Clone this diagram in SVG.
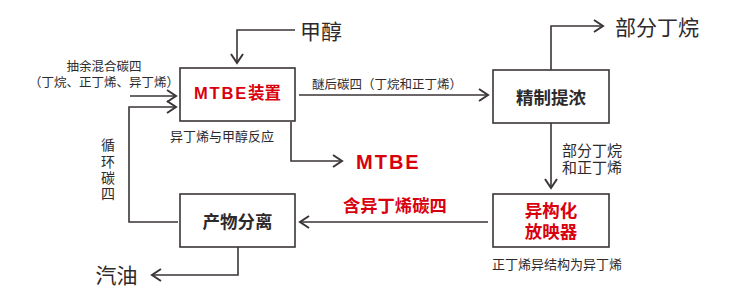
<svg xmlns="http://www.w3.org/2000/svg" width="730" height="308" viewBox="0 0 730 308">
<defs>
<style>
text{font-family:"Liberation Sans","Noto Sans CJK SC",sans-serif;fill:#2e2a2b;dominant-baseline:central}
.box{fill:#fff;stroke:#3a3536;stroke-width:1.6}
.ln{fill:none;stroke:#3a3536;stroke-width:1.6}
.big{font-size:21px}
.sm{font-size:12.5px}
.md{font-size:13px}
.bl{font-size:17.5px;font-weight:bold}
.red{fill:#d9000d;font-weight:bold}
.mid{text-anchor:middle}
</style>
<marker id="ah" viewBox="0 0 12 14" refX="10" refY="7" markerWidth="12" markerHeight="14" markerUnits="userSpaceOnUse" orient="auto">
<path d="M1,1 L10,7 L1,13" fill="none" stroke="#3a3536" stroke-width="2"/>
</marker>
</defs>
<rect width="730" height="308" fill="#fff"/>
<g id="connectors">
<polyline class="ln" points="295,30 237,30 237,63" marker-end="url(#ah)"/>
<line class="ln" x1="130" y1="96" x2="176" y2="96" marker-end="url(#ah)"/>
<polyline class="ln" points="178,222 129,222 129,107 176,107" marker-end="url(#ah)"/>
<line class="ln" x1="299" y1="95" x2="488" y2="95" marker-end="url(#ah)"/>
<polyline class="ln" points="291,122 291,161 342,161" marker-end="url(#ah)"/>
<polyline class="ln" points="551,70 551,26 603,26" marker-end="url(#ah)"/>
<line class="ln" x1="551" y1="123" x2="551" y2="188" marker-end="url(#ah)"/>
<line class="ln" x1="488" y1="222" x2="300" y2="222" marker-end="url(#ah)"/>
<polyline class="ln" points="238,247 238,275 152,275" marker-end="url(#ah)"/>
</g>
<g id="mtbe-unit">
<rect class="box" x="180" y="68" width="115" height="53"/>
<text x="237.5" y="93" class="mid red" font-size="16.5"><tspan letter-spacing="1.8">MTBE</tspan>装置</text>
<text x="170" y="136.5" class="md">异丁烯与甲醇反应</text>
</g>
<g id="refine">
<rect class="box" x="493" y="70" width="116" height="53"/>
<text x="551" y="97.5" class="mid bl">精制提浓</text>
</g>
<g id="separation">
<rect class="box" x="180" y="194" width="115" height="53"/>
<text x="237.5" y="221.5" class="mid bl" font-size="17">产物分离</text>
</g>
<g id="isomer">
<rect class="box" x="493" y="194" width="116" height="53"/>
<text x="551" y="210.5" class="mid bl red">异构化</text>
<text x="551" y="231.5" class="mid bl red">放映器</text>
<text x="492" y="264" class="md">正丁烯异结构为异丁烯</text>
</g>
<g id="methanol">
<text x="300" y="31.5" class="big">甲醇</text>
</g>
<g id="feed">
<text x="104" y="66.5" class="mid sm">抽余混合碳四</text>
<text x="104" y="83" class="mid sm">（丁烷、正丁烯、异丁烯）</text>
</g>
<g id="ether-c4">
<text x="312" y="84.5" class="sm">醚后碳四（丁烷和正丁烯）</text>
</g>
<g id="mtbe-product">
<text x="356" y="162" class="red" font-size="20" letter-spacing="2">MTBE</text>
</g>
<g id="butane-top">
<text x="615" y="27.5" class="big">部分丁烷</text>
</g>
<g id="butane-mid">
<text x="562" y="150" font-size="15">部分丁烷</text>
<text x="562" y="167.5" font-size="15">和正丁烯</text>
</g>
<g id="recycle">
<text x="108" y="145" class="mid" font-size="14">循</text>
<text x="108" y="161.5" class="mid" font-size="14">环</text>
<text x="108" y="177.5" class="mid" font-size="14">碳</text>
<text x="108" y="194" class="mid" font-size="14">四</text>
</g>
<g id="isobutene-c4">
<text x="343" y="206" class="red" font-size="17.3">含异丁烯碳四</text>
</g>
<g id="gasoline">
<text x="95.5" y="275.5" class="big">汽油</text>
</g>
</svg>
